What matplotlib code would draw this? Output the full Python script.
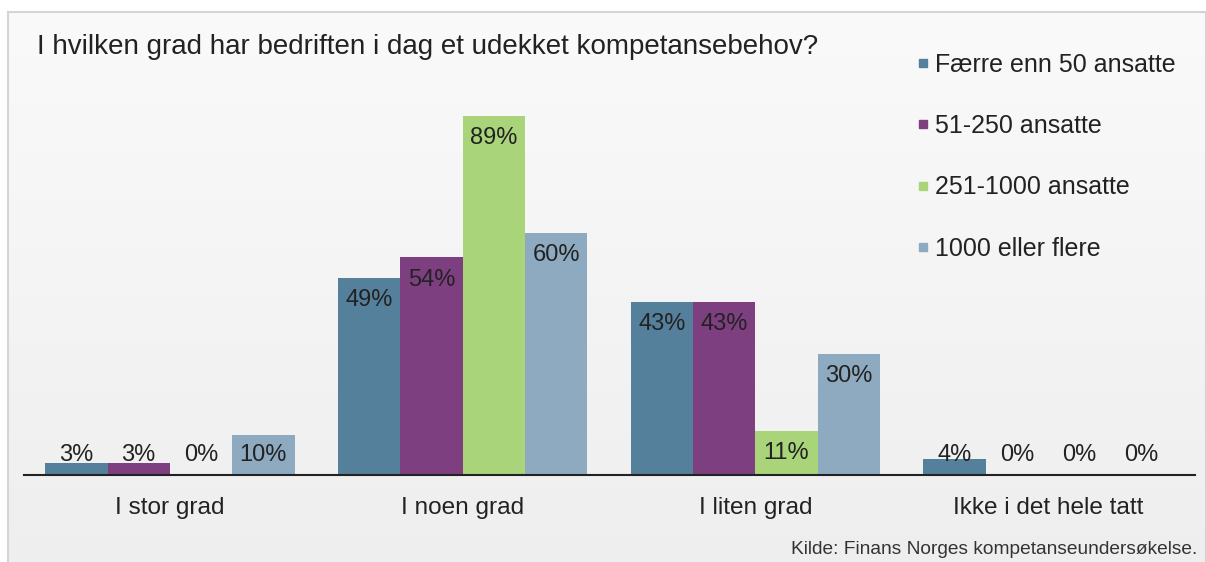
import matplotlib.pyplot as plt
import numpy as np
from matplotlib.lines import Line2D

plt.rcParams['font.family'] = ['Liberation Sans', 'DejaVu Sans']

categories = ['I stor grad', 'I noen grad', 'I liten grad', 'Ikke i det hele tatt']
series = ['Færre enn 50 ansatte', '51-250 ansatte', '251-1000 ansatte', '1000 eller flere']
values = [
    [3, 49, 43, 4],   # Færre enn 50
    [3, 54, 43, 0],   # 51-250
    [0, 89, 11, 0],   # 251-1000
    [10, 60, 30, 0],  # 1000 eller flere
]
colors = ['#55809c', '#7e3f80', '#a9d47a', '#8eaac0']
title = 'I hvilken grad har bedriften i dag et udekket kompetansebehov?'
source = 'Kilde: Finans Norges kompetanseundersøkelse.'

W, H = 1206, 562
fig = plt.figure(figsize=(W / 100, H / 100), dpi=100, facecolor='white')

# grey panel with a soft vertical gradient
bg = fig.add_axes([8 / W, 0, 1 - 8 / W, 1 - 12 / H])
grad = np.linspace(0.98, 0.935, 256).reshape(-1, 1)
bg.imshow(np.dstack([grad, grad, grad]), aspect='auto', extent=[0, 1, 0, 1])
bg.set_xticks([])
bg.set_yticks([])
for s in bg.spines.values():
    s.set_color('#d4d4d4')
    s.set_linewidth(1.5)
bg.spines['bottom'].set_visible(False)

ax = fig.add_axes([23.5 / W, 87 / H, 1171 / W, 403 / H])
ax.patch.set_alpha(0)
x = np.arange(len(categories))
bw = 0.213
for i, (name, vals, c) in enumerate(zip(series, values, colors)):
    pos = x + (i - 1.5) * bw
    ax.bar(pos, vals, width=bw, color=c, label=name)
    for p, v in zip(pos, vals):
        ax.text(p, max(v - 5.5, 5), f'{v}%', ha='center', va='center',
                fontsize=17, color='#222222')

ax.set_xlim(-0.5, 3.5)
ax.set_ylim(0, 100)
ax.set_yticks([])
ax.set_xticks(x)
ax.set_xticklabels(categories, fontsize=17.6, color='#222222')
ax.tick_params(axis='x', length=0, pad=15.5)
for s in ['top', 'left', 'right']:
    ax.spines[s].set_visible(False)
ax.spines['bottom'].set_color('#222222')
ax.spines['bottom'].set_linewidth(1.5)

fig.text(37 / W, 1 - 47 / H, title, fontsize=20, color='#222222', va='center')
fig.text(1197 / W, 1 - 549 / H, source, fontsize=13.8, color='#333333',
         ha='right', va='center')

handles = [Line2D([], [], marker='s', linestyle='none', markersize=6,
                  color=c) for c in colors]
fig.legend(handles, series, loc='upper left', bbox_to_anchor=(894 / W, 1 - 30 / H),
           frameon=False, fontsize=18, handlelength=0.5, handletextpad=0.25,
           labelspacing=1.5, labelcolor='#222222')

fig.savefig('out.png', dpi=100, facecolor='white')
